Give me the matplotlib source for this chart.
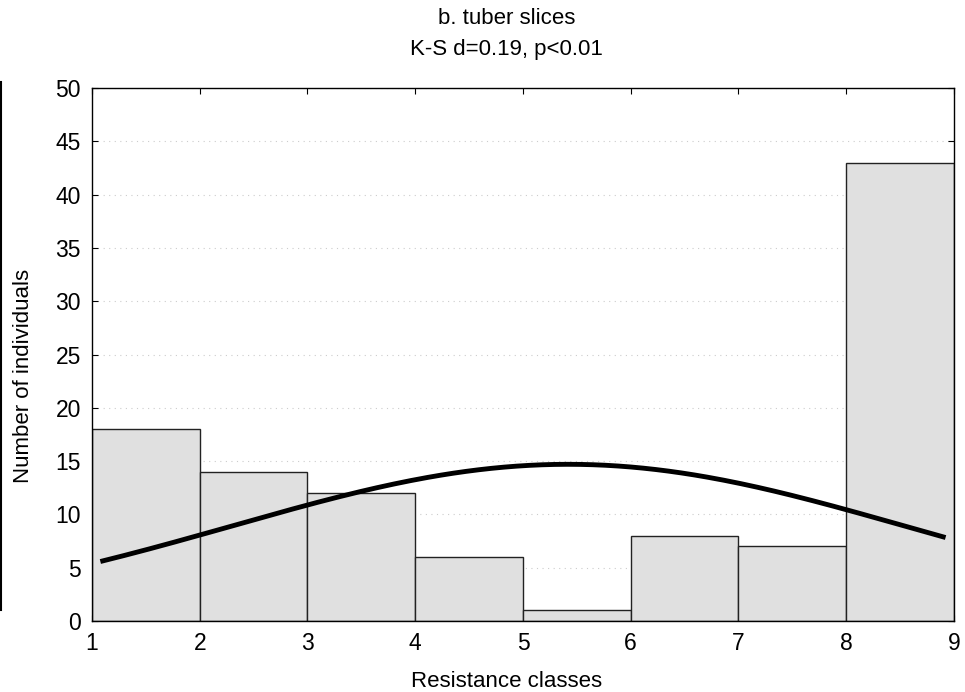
import numpy as np
import matplotlib
matplotlib.use('Agg')
from matplotlib import pyplot as plt
from matplotlib.lines import Line2D

plt.rcParams['font.family'] = ['Liberation Sans', 'DejaVu Sans']

# histogram of resistance classes
bin_edges = [1, 2, 3, 4, 5, 6, 7, 8, 9]
counts = [18, 14, 12, 6, 1, 8, 7, 43]

# fitted normal curve
curve_mean = 5.42
curve_sd = 3.12
curve_peak = 14.7
curve_start = 1.1
curve_end = 8.9

fig = plt.figure(figsize=(9.65, 6.92), dpi=100)
ax = fig.add_axes([0.0953, 0.1026, 0.8933, 0.7702])

lefts = bin_edges[:-1]
widths = np.diff(bin_edges)
ax.bar(lefts, counts, width=widths, align='edge', color='#e0e0e0',
       edgecolor='#222222', linewidth=1.0, zorder=2)

xs = np.linspace(curve_start, curve_end, 200)
ys = curve_peak * np.exp(-(xs - curve_mean) ** 2 / (2 * curve_sd ** 2))
ax.plot(xs, ys, color='black', linewidth=3.5, zorder=3)

ax.set_xlim(1, 9)
ax.set_ylim(0, 50)
ax.set_xticks(range(1, 10))
ax.set_yticks(range(0, 51, 5))
ax.yaxis.grid(True, linestyle=(0, (1, 4)), color='#cccccc', linewidth=0.8, zorder=0)
ax.set_axisbelow(True)
ax.tick_params(direction='in', top=True, right=True, labelsize=16.5, length=4, pad=8)
for s in ax.spines.values():
    s.set_linewidth(1.0)

ax.set_xlabel('Resistance classes', fontsize=16)
ax.set_ylabel('Number of individuals', fontsize=16)
ax.xaxis.set_label_coords(0.481, -0.094)
ax.yaxis.set_label_coords(-0.067, 0.46)

fig.text(0.525, 1 - 19 / 692, 'b. tuber slices', fontsize=16, ha='center', va='center')
fig.text(0.525, 1 - 50 / 692, 'K-S d=0.19, p<0.01', fontsize=16, ha='center', va='center')

# edge of the neighbouring panel
fig.add_artist(Line2D([0.0012, 0.0012], [1 - 610 / 692, 1 - 82 / 692], color='black', linewidth=1.5))

plt.savefig('out.png', dpi=100)
